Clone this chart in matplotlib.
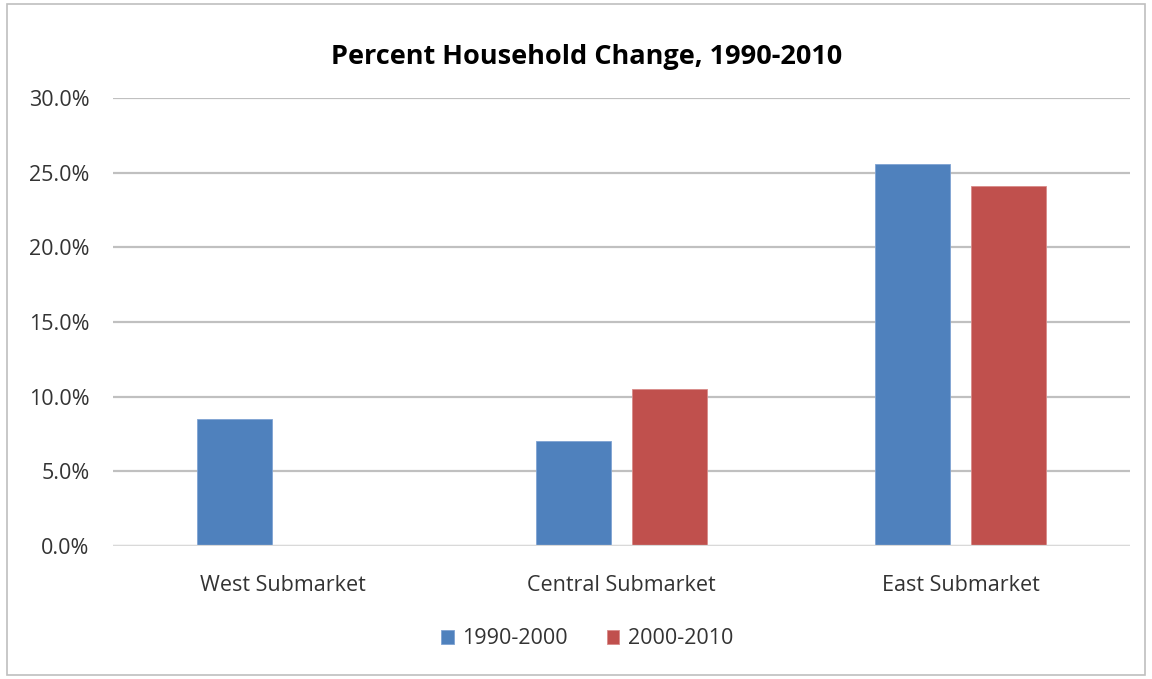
import numpy as np
import matplotlib
matplotlib.use("Agg")
import matplotlib.pyplot as plt
from matplotlib.patches import Rectangle
from matplotlib.ticker import PercentFormatter

# household change by submarket, in percent
categories = ["West Submarket", "Central Submarket", "East Submarket"]
series_names = ["1990-2000", "2000-2010"]
change_1990_2000 = [8.5, 7.0, 25.6]
change_2000_2010 = [0.0, 10.5, 24.1]
y_ticks = [0, 5, 10, 15, 20, 25, 30]

blue = "#4f81bd"
red = "#c0504d"

plt.rcParams["font.family"] = ["Open Sans", "DejaVu Sans"]

fig = plt.figure(figsize=(11.52, 6.79), dpi=100)
ax = fig.add_axes([113 / 1152, 1 - 546 / 679, (1130 - 113) / 1152, (546 - 98) / 679])

x = np.arange(len(categories))
w = 0.221
off = 0.141
ax.bar(x - off, change_1990_2000, w, color=blue, edgecolor="#7fa3d3", linewidth=0.6,
       label=series_names[0], zorder=3)
ax.bar(x + off, change_2000_2010, w, color=red, edgecolor="#d98b89", linewidth=0.6,
       label=series_names[1], zorder=3)

ax.set_xlim(-0.5, 2.5)
ax.set_ylim(0, 30)
ax.set_yticks(y_ticks)
ax.yaxis.set_major_formatter(PercentFormatter(decimals=1))
ax.set_xticks(x)
ax.set_xticklabels(categories)
ax.tick_params(axis="both", length=0, labelsize=15.5, colors="#333333")
ax.tick_params(axis="y", pad=17)
ax.tick_params(axis="x", pad=21)

ax.grid(axis="y", color="#c0c0c0", linewidth=1.6, zorder=0)
for s in ax.spines.values():
    s.set_visible(False)
ax.axhline(0, color="#d9d9d9", linewidth=1.6, zorder=4)

fig.text(587 / 1152, 1 - 57 / 679, "Percent Household Change, 1990-2010",
         ha="center", va="center", fontsize=19.5, fontweight="bold", color="black")

fig.legend(loc="center", bbox_to_anchor=(587 / 1152, 1 - 639 / 679), ncol=2,
           frameon=False, fontsize=15.5, handlelength=0.6, handleheight=0.6,
           handletextpad=0.4, columnspacing=1.8, labelcolor="#333333")

# chart frame
fig.patches.append(Rectangle((7 / 1152, 4 / 679), 1138 / 1152, 671 / 679,
                             transform=fig.transFigure, fill=False,
                             edgecolor="#bfbfbf", linewidth=1.2))

fig.savefig("out.png", dpi=100, facecolor="white")
